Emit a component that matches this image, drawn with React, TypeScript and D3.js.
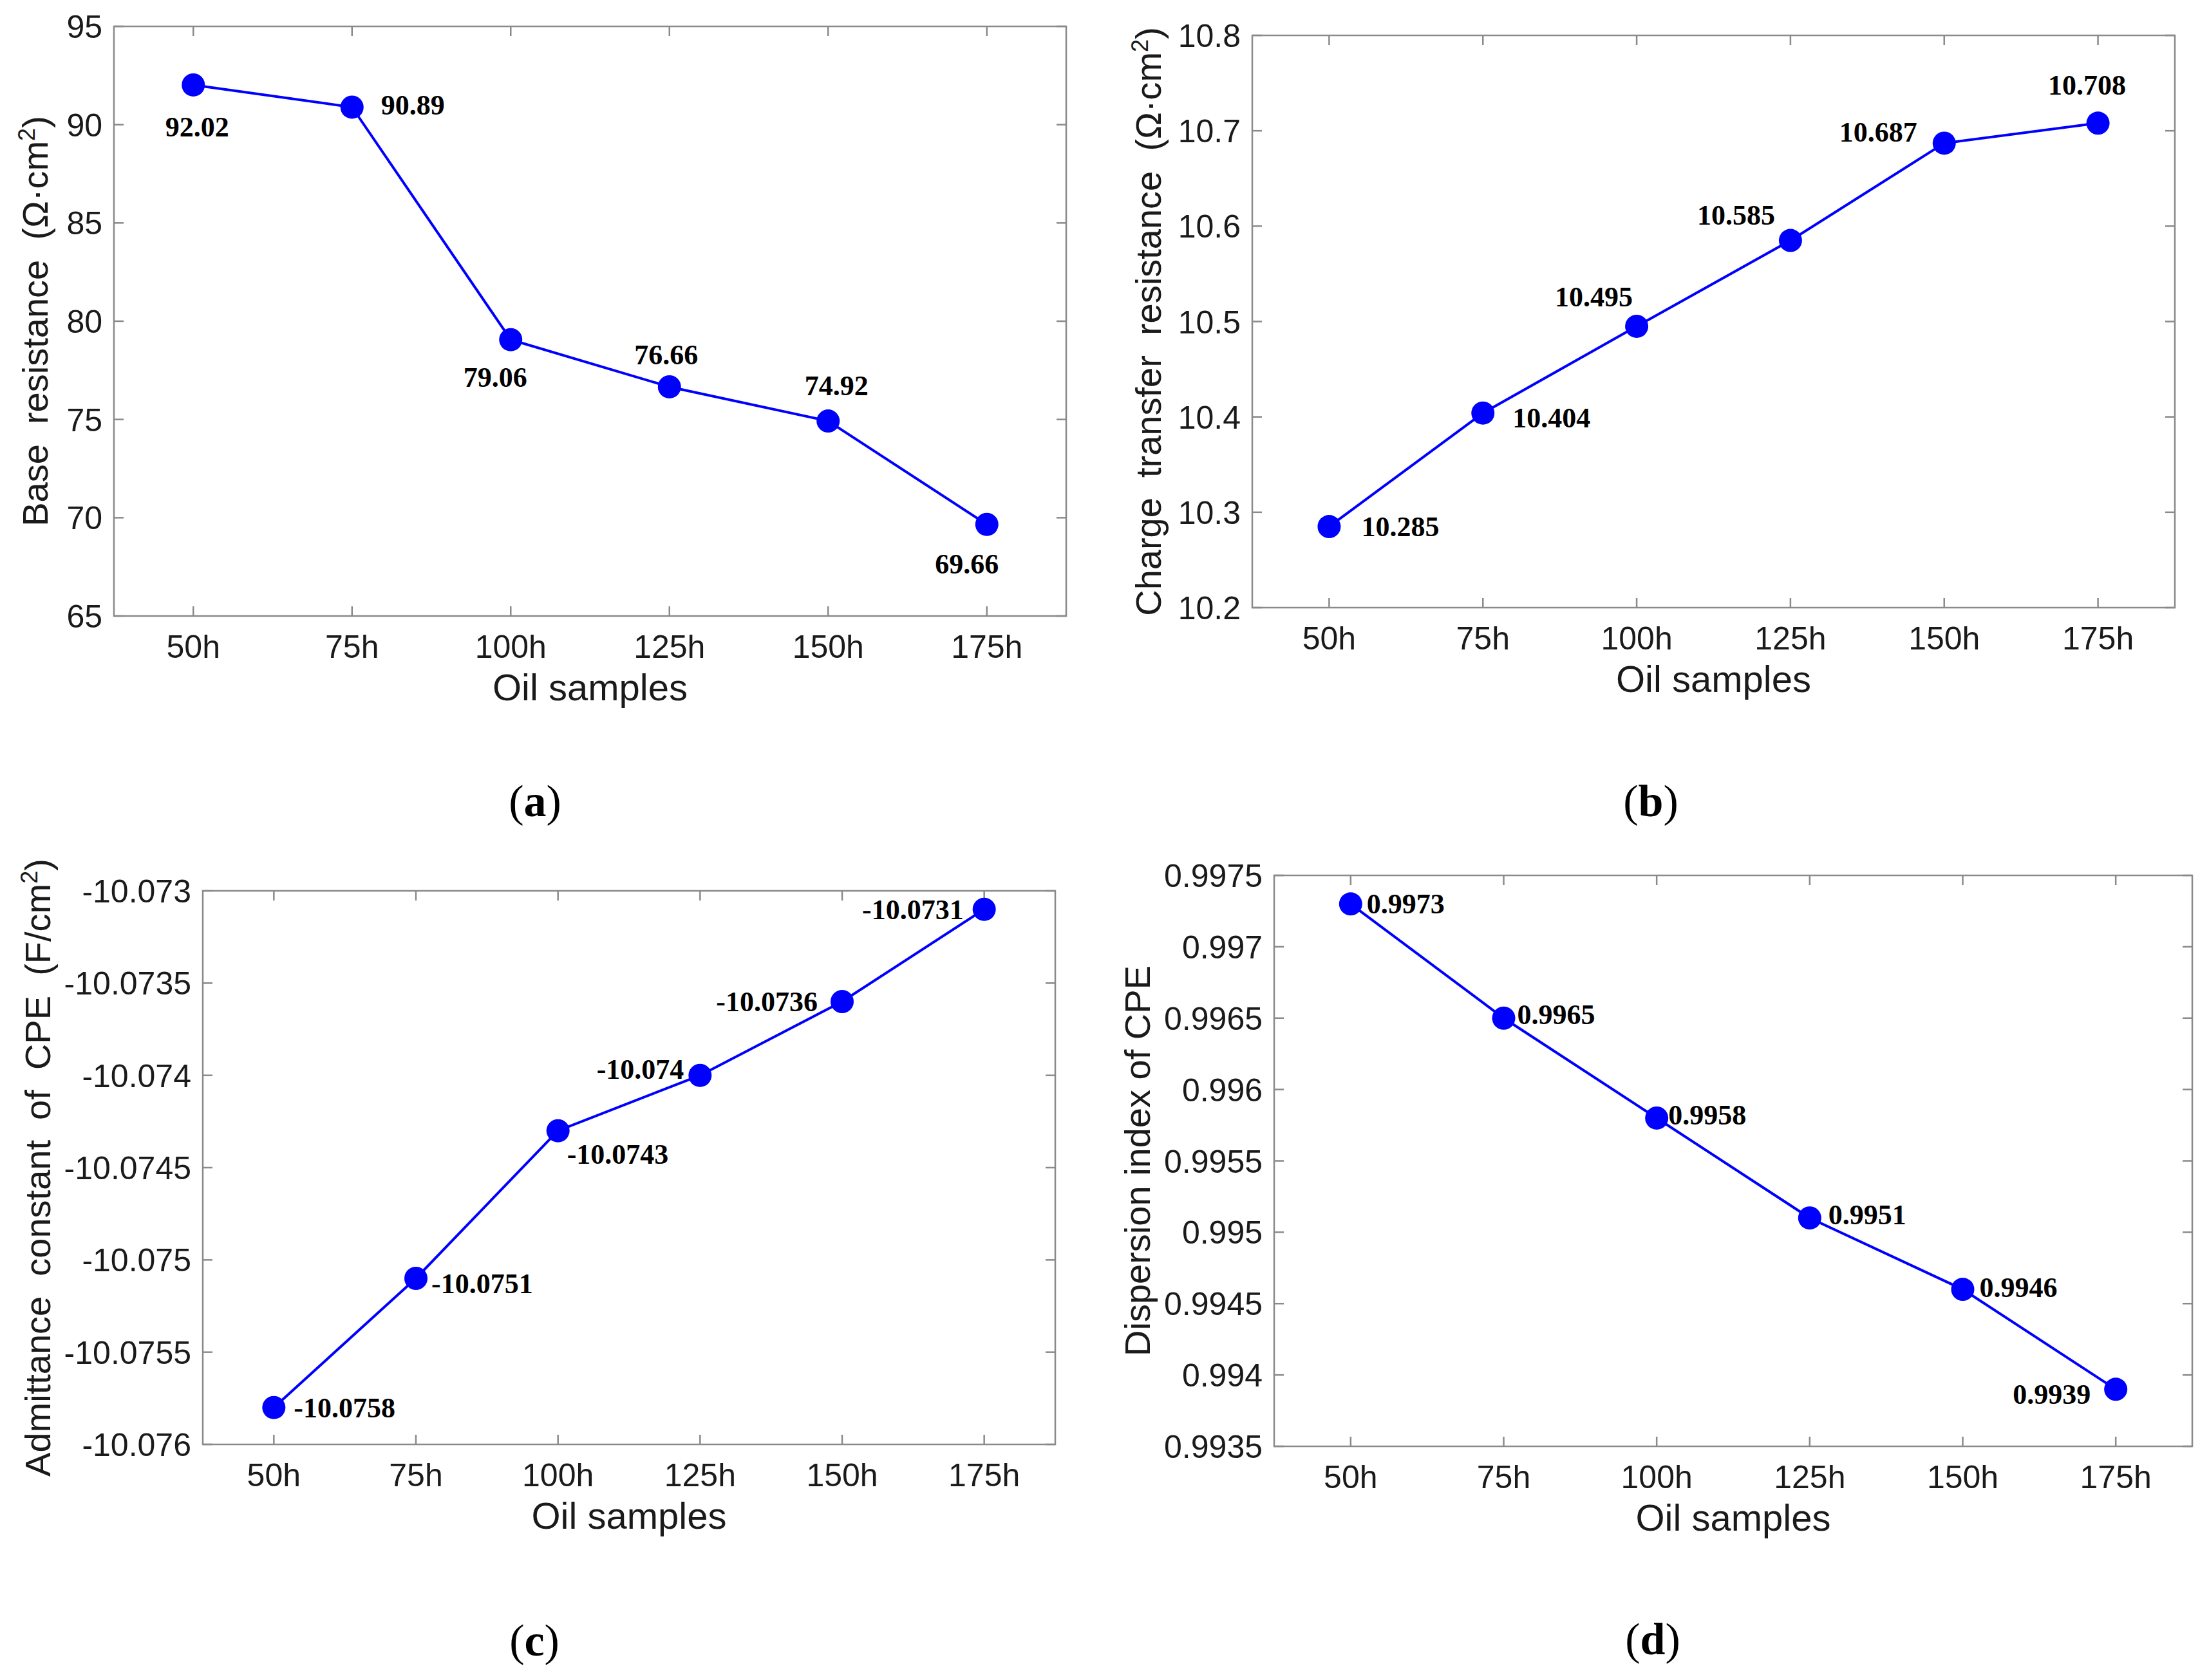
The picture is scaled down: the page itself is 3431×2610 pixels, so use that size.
import React, { useEffect, useRef } from "react";
import * as d3 from "d3";

// oil ageing samples (x axis, shared by all four plots)
const samples = ["50h", "75h", "100h", "125h", "150h", "175h"];

// (a) base resistance
const baseResistance = [92.02, 90.89, 79.06, 76.66, 74.92, 69.66];
const baseTicks = [65, 70, 75, 80, 85, 90, 95];

// (b) charge transfer resistance
const chargeTransfer = [10.285, 10.404, 10.495, 10.585, 10.687, 10.708];
const chargeTicks = [10.2, 10.3, 10.4, 10.5, 10.6, 10.7, 10.8];

// (c) admittance constant of CPE
const admittance = [-10.0758, -10.0751, -10.0743, -10.074, -10.0736, -10.0731];
const admittanceTicks = [-10.076, -10.0755, -10.075, -10.0745, -10.074, -10.0735, -10.073];

// (d) dispersion index of CPE
const dispersion = [0.9973, 0.9965, 0.9958, 0.9951, 0.9946, 0.9939];
const dispersionTicks = [0.9935, 0.994, 0.9945, 0.995, 0.9955, 0.996, 0.9965, 0.997, 0.9975];

type Anchor = "start" | "middle" | "end";
// where each value label sits relative to its marker: [dx, dy, anchor]
type LabelPos = [number, number, Anchor];

interface Panel {
  values: number[];
  ticks: number[];
  box: { left: number; right: number; top: number; bottom: number };
  ylabel: { x: number; parts: [string, boolean][] };
  caption: { x: number; y: number; letter: string };
  labels: LabelPos[];
}

const AXIS = "#8a8a8a";
const BLUE = "#0000ff";
const TEXT = "#1a1a1a";
const SANS = "'Liberation Sans', Arial, sans-serif";
const SERIF = "'Liberation Serif', 'Times New Roman', serif";

const panels: Panel[] = [
  {
    values: baseResistance,
    ticks: baseTicks,
    box: { left: 177, right: 1656, top: 41, bottom: 957 },
    ylabel: { x: 54, parts: [["Base  resistance  (Ω·cm", false], ["2", true], [")", false]] },
    caption: { x: 831, y: 1243, letter: "a" },
    labels: [
      [6, 65, "middle"],
      [45, -3, "start"],
      [-24, 58, "middle"],
      [-5, -50, "middle"],
      [13, -55, "middle"],
      [-31, 61, "middle"],
    ],
  },
  {
    values: chargeTransfer,
    ticks: chargeTicks,
    box: { left: 1945, right: 3378, top: 55, bottom: 944 },
    ylabel: { x: 1783, parts: [["Charge  transfer  resistance  (Ω·cm", false], ["2", true], [")", false]] },
    caption: { x: 2564, y: 1243, letter: "b" },
    labels: [
      [50, 0, "start"],
      [46, 7, "start"],
      [-6, -46, "end"],
      [-24, -40, "end"],
      [-42, -17, "end"],
      [-17, -59, "middle"],
    ],
  },
  {
    values: admittance,
    ticks: admittanceTicks,
    box: { left: 315, right: 1639, top: 1384, bottom: 2244 },
    ylabel: { x: 58, parts: [["Admittance  constant  of  CPE  (F/cm", false], ["2", true], [")", false]] },
    caption: { x: 830, y: 2547, letter: "c" },
    labels: [
      [31, 0, "start"],
      [24, 8, "start"],
      [14, 36, "start"],
      [-25, -10, "end"],
      [-38, 0, "end"],
      [-32, 0, "end"],
    ],
  },
  {
    values: dispersion,
    ticks: dispersionTicks,
    box: { left: 1979, right: 3405, top: 1360, bottom: 2247 },
    ylabel: { x: 1766, parts: [["Dispersion index of CPE", false]] },
    caption: { x: 2567, y: 2545, letter: "d" },
    labels: [
      [25, 0, "start"],
      [21, -6, "start"],
      [18, -5, "start"],
      [29, -5, "start"],
      [26, -3, "start"],
      [-39, 8, "end"],
    ],
  },
];

function drawPanel(svg: d3.Selection<SVGSVGElement, unknown, null, undefined>, p: Panel) {
  const { left, right, top, bottom } = p.box;
  const x = d3.scalePoint<string>().domain(samples).range([left, right]).padding(0.5);
  const y = d3
    .scaleLinear()
    .domain([d3.min(p.ticks)!, d3.max(p.ticks)!])
    .range([bottom, top]);

  const g = svg.append("g");

  // axes box
  g.append("rect")
    .attr("x", left)
    .attr("y", top)
    .attr("width", right - left)
    .attr("height", bottom - top)
    .attr("fill", "none")
    .attr("stroke", AXIS)
    .attr("stroke-width", 2.5);

  const tickLen = 15;

  // x ticks, inward on bottom and top
  samples.forEach((s) => {
    const xx = x(s)!;
    g.append("line").attr("x1", xx).attr("x2", xx).attr("y1", bottom).attr("y2", bottom - tickLen)
      .attr("stroke", AXIS).attr("stroke-width", 2.5);
    g.append("line").attr("x1", xx).attr("x2", xx).attr("y1", top).attr("y2", top + tickLen)
      .attr("stroke", AXIS).attr("stroke-width", 2.5);
    g.append("text")
      .attr("x", xx)
      .attr("y", bottom + 65)
      .attr("text-anchor", "middle")
      .attr("font-family", SANS)
      .attr("font-size", 50)
      .attr("fill", TEXT)
      .text(s);
  });

  // y ticks, inward on left and right
  p.ticks.forEach((t) => {
    const yy = y(t);
    g.append("line").attr("x1", left).attr("x2", left + tickLen).attr("y1", yy).attr("y2", yy)
      .attr("stroke", AXIS).attr("stroke-width", 2.5);
    g.append("line").attr("x1", right).attr("x2", right - tickLen).attr("y1", yy).attr("y2", yy)
      .attr("stroke", AXIS).attr("stroke-width", 2.5);
    g.append("text")
      .attr("x", left - 18)
      .attr("y", yy)
      .attr("dy", "0.36em")
      .attr("text-anchor", "end")
      .attr("font-family", SANS)
      .attr("font-size", 50)
      .attr("fill", TEXT)
      .text(String(t));
  });

  // axis titles
  g.append("text")
    .attr("x", (left + right) / 2)
    .attr("y", bottom + 131)
    .attr("text-anchor", "middle")
    .attr("font-family", SANS)
    .attr("font-size", 58)
    .attr("fill", TEXT)
    .text("Oil samples");

  const yl = g.append("text")
    .attr("transform", `translate(${p.ylabel.x},${(top + bottom) / 2}) rotate(-90)`)
    .attr("dy", "0.36em")
    .attr("text-anchor", "middle")
    .attr("font-family", SANS)
    .attr("font-size", 56)
    .attr("fill", TEXT)
    .style("white-space", "pre");
  p.ylabel.parts.forEach(([txt, sup]) => {
    const ts = yl.append("tspan").text(txt);
    if (sup) ts.attr("baseline-shift", "super").attr("font-size", 36);
  });

  // the series line and markers
  const line = d3
    .line<number>()
    .x((_, i) => x(samples[i])!)
    .y((d) => y(d));

  g.append("path")
    .attr("d", line(p.values))
    .attr("fill", "none")
    .attr("stroke", BLUE)
    .attr("stroke-width", 4);

  g.selectAll("circle.pt")
    .data(p.values)
    .enter()
    .append("circle")
    .attr("class", "pt")
    .attr("cx", (_, i) => x(samples[i])!)
    .attr("cy", (d) => y(d))
    .attr("r", 18)
    .attr("fill", BLUE);

  // value labels
  g.selectAll("text.val")
    .data(p.values)
    .enter()
    .append("text")
    .attr("class", "val")
    .attr("x", (_, i) => x(samples[i])! + p.labels[i][0])
    .attr("y", (d, i) => y(d) + p.labels[i][1])
    .attr("dy", "0.34em")
    .attr("text-anchor", (_, i) => p.labels[i][2])
    .attr("font-family", SERIF)
    .attr("font-weight", "bold")
    .attr("font-size", 44)
    .attr("fill", "#000")
    .text((d) => String(d));

  // sub-figure caption
  const cap = svg.append("text")
    .attr("x", p.caption.x)
    .attr("y", p.caption.y)
    .attr("dy", "0.35em")
    .attr("text-anchor", "middle")
    .attr("font-family", SERIF)
    .attr("font-size", 70)
    .attr("fill", "#000");
  cap.append("tspan").text("(");
  cap.append("tspan").attr("font-weight", "bold").text(p.caption.letter);
  cap.append("tspan").text(")");
}

export default function App() {
  const ref = useRef<SVGSVGElement>(null);

  useEffect(() => {
    const svg = d3.select(ref.current!);
    svg.selectAll("*").remove();
    panels.forEach((p) => drawPanel(svg, p));
  }, []);

  return (
    <svg
      ref={ref}
      width={3431}
      height={2610}
      style={{ position: "absolute", left: 0, top: 0, background: "#fff", display: "block" }}
    />
  );
}
